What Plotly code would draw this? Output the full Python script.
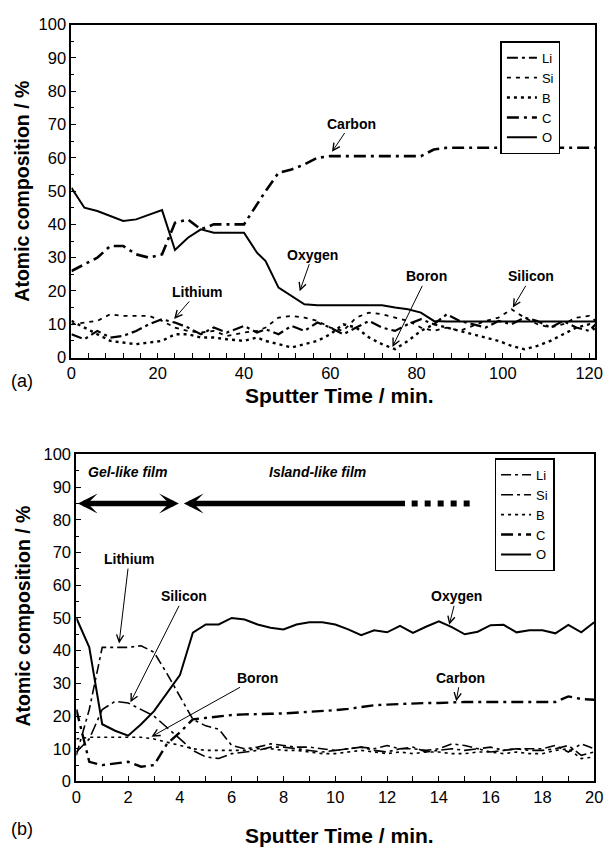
import plotly.graph_objects as go

# ---------------- panel (a): long sputter series ----------------
time_a = [0, 3, 6, 9, 12, 15, 18, 21, 24, 27, 30, 33, 36, 40, 43, 45, 48, 51, 54, 57,
          60, 63, 66, 69, 72, 75, 78, 81, 84, 87, 90, 93, 96, 99, 102, 105, 108, 111,
          114, 117, 120, 121.5]
li_a = [7, 5.5, 8, 6, 6.5, 8, 10, 11.5, 10.5, 9, 7, 9, 7.5, 9.5, 7.5, 8.5, 7, 9.5, 8, 10.5,
        9, 7, 9, 11, 9, 8, 10, 11.5, 10, 13, 11, 10, 9, 11, 10, 12, 11, 9, 11, 9, 8, 10]
si_a = [10, 10.5, 11, 13, 12.5, 12.5, 12.5, 11, 9, 8, 7.5, 8, 6.5, 7.5, 8, 9, 12, 12.5, 12, 11,
        9, 8, 12, 13.5, 13, 12, 11, 9, 8, 9, 8, 9.5, 11, 12, 14.5, 12, 10, 9, 10, 12, 12.5, 11]
b_a = [11, 9, 7, 5, 4.5, 4, 4.5, 5, 7, 7, 6, 6, 5.5, 5, 6, 5, 4, 3, 4, 5,
       7, 10, 9, 6, 4, 2.5, 5, 8, 10, 9, 8, 7, 6, 5, 3.5, 2.5, 3.5, 5, 7, 9, 10, 8]
c_a = [26, 28, 30, 33.5, 33.5, 31, 30, 31, 40.5, 41.5, 38.5, 40, 40, 40, 46, 50, 55.5, 56.5, 58, 60,
       60.5, 60.5, 60.5, 60.5, 60.5, 60.5, 60.5, 60.5, 62.5, 63, 63, 63, 63, 63, 63, 63, 63, 63,
       63, 63, 63, 63]
o_a = [51, 45, 44, 42.5, 41, 41.5, 43, 44.3, 32.3, 36, 38.5, 37.5, 37.5, 37.5, 31.5, 29, 21, 18.4,
       16, 15.7, 15.7, 15.7, 15.7, 15.7, 15.7, 15, 14.5, 13.5, 11, 10.8, 10.8, 10.8, 10.8, 10.8,
       10.8, 10.8, 10.8, 10.8, 10.8, 10.8, 10.8, 10.8]

# ---------------- panel (b): early sputter series ----------------
time_b = [i * 0.5 for i in range(41)]
li_b = [8, 22, 41, 41, 41, 41.5, 39.5, 33, 26, 19, 17, 16, 11, 10, 10.5, 11.5, 11, 10.5, 10.5, 10,
        9.5, 10, 10.5, 10, 11, 10, 10, 9.5, 10, 11.5, 11, 10, 10.5, 9.5, 10, 10, 10, 11, 9, 11.5, 10]
si_b = [9, 13, 22, 24.5, 24, 22, 20, 16.5, 13, 9.5, 7.5, 7, 8.5, 9, 9.5, 10.5, 10.5, 10, 9.5, 9,
        9.5, 10, 10.5, 9.5, 9, 10, 10.5, 9, 9.5, 10, 9.5, 10, 9, 9.5, 10, 9.5, 9.5, 10, 11, 8, 9]
b_b = [13, 13.5, 13.5, 13.5, 13.5, 13.5, 13, 12, 11, 10, 9.5, 9.5, 9.5, 9.5, 10, 10, 9.5, 9.5, 9,
       8.5, 8.5, 9, 9.5, 9, 8.5, 9, 8.5, 9, 9, 8.5, 8.5, 9, 9, 8.5, 9, 8.5, 8.5, 9.5, 10, 7, 7.5]
c_b = [22, 6, 5, 5.5, 6, 4.5, 5, 11.5, 15, 19, 19.5, 20, 20.3, 20.5, 20.5, 20.7, 20.8, 21, 21.3,
       21.5, 21.8, 22.2, 22.8, 23.3, 23.5, 23.7, 23.8, 24, 24, 24.2, 24.3, 24.3, 24.3, 24.3, 24.3,
       24.3, 24.3, 24.3, 26, 25.2, 25]
o_b = [50, 41, 17.5, 15.5, 14, 17.5, 21.5, 27, 32.5, 45.5, 48, 48, 50, 49.5, 48, 47, 46.5, 48,
       48.7, 48.7, 48, 46.5, 44.7, 46.2, 45.6, 47.6, 45.4, 47.3, 49, 47.2, 45, 45.8, 47.8, 47.9,
       45.6, 46.2, 46.2, 45.3, 47.9, 45.6, 48.7]

element_names = ["Li", "Si", "B", "C", "O"]

# line styles per element: (dash pattern, width)
styles_a = {
    "Li": ("11px,4px,3px,4px", 2.2),
    "Si": ("4px,5px", 1.8),
    "B": ("3px,4px", 2.4),
    "C": ("12px,5px,3px,5px", 2.6),
    "O": ("solid", 2.0),
}
styles_b = {
    "Li": ("10px,4px,3px,4px", 1.6),
    "Si": ("12px,4px,3px,4px", 1.6),
    "B": ("3px,4px", 1.6),
    "C": ("12px,5px,3px,5px", 2.4),
    "O": ("solid", 2.0),
}

series_a = dict(zip(element_names, [li_a, si_a, b_a, c_a, o_a]))
series_b = dict(zip(element_names, [li_b, si_b, b_b, c_b, o_b]))

W, H = 613, 858
fig = go.Figure()

for name in element_names:
    dash, width = styles_a[name]
    fig.add_trace(go.Scatter(
        x=time_a, y=series_a[name], mode="lines", name=name,
        line=dict(color="black", width=width, dash=dash),
        xaxis="x", yaxis="y", legend="legend",
    ))
for name in element_names:
    dash, width = styles_b[name]
    fig.add_trace(go.Scatter(
        x=time_b, y=series_b[name], mode="lines", name=name,
        line=dict(color="black", width=width, dash=dash),
        xaxis="x2", yaxis="y2", legend="legend2",
    ))

FONT = "Liberation Sans, Arial, sans-serif"
tickfont = dict(family=FONT, size=16.5, color="black")


def axis_common():
    return dict(
        showline=True, linecolor="black", linewidth=2, mirror=True,
        showgrid=False, zeroline=False, ticks="inside", ticklen=5,
        tickcolor="black", tickwidth=1, tickfont=tickfont,
    )


legend_style = dict(xanchor="left", yanchor="top", bgcolor="white",
                    bordercolor="black", borderwidth=1.5,
                    font=dict(family=FONT, size=13, color="black"),
                    tracegroupgap=0, itemwidth=30)

fig.update_layout(
    width=W, height=H,
    margin=dict(l=0, r=0, t=0, b=0),
    paper_bgcolor="white", plot_bgcolor="white",
    font=dict(family=FONT, color="black"),
    xaxis=dict(domain=[68 / W, 604 / W], range=[0, 121.4], dtick=20, anchor="y",
               minor=dict(dtick=4, ticks="inside", ticklen=5, tickcolor="black"),
               **axis_common()),
    yaxis=dict(domain=[1 - 356 / H, 1 - 16 / H], range=[0, 100], dtick=10, anchor="x",
               minor=dict(dtick=5, ticks="inside", ticklen=3, tickcolor="black"),
               **axis_common()),
    xaxis2=dict(domain=[73 / W, 603 / W], range=[0, 20], dtick=2, anchor="y2",
                minor=dict(dtick=1, ticks="inside", ticklen=5, tickcolor="black"),
                **axis_common()),
    yaxis2=dict(domain=[1 - 789 / H, 1 - 455 / H], range=[0, 100], dtick=10, anchor="x2",
                minor=dict(dtick=5, ticks="inside", ticklen=3, tickcolor="black"),
                **axis_common()),
    legend=dict(x=507 / W, y=1 - 33 / H, **legend_style),
    legend2=dict(x=501 / W, y=1 - 459 / H, **legend_style),
    showlegend=True,
)

annotations = []

# axis titles and panel tags: (title centre, tag centre)
for yc in (186, 620):
    annotations.append(dict(
        text="<b>Atomic composition / %</b>", textangle=-90,
        xref="paper", yref="paper", x=18 / W, y=1 - yc / H,
        xanchor="center", yanchor="middle",
        showarrow=False, font=dict(family=FONT, size=19.5, color="black"),
    ))
for yc, ytag, tag in ((395, 380, "(a)"), (844, 838, "(b)")):
    annotations.append(dict(
        text="<b>Sputter Time / min.</b>", xref="paper", yref="paper",
        x=342 / W, y=1 - yc / H, xanchor="center", yanchor="middle", showarrow=False,
        font=dict(family=FONT, size=21, color="black"),
    ))
    annotations.append(dict(
        text=tag, xref="paper", yref="paper", x=17 / W, y=1 - ytag / H,
        xanchor="center", yanchor="middle",
        showarrow=False, font=dict(family=FONT, size=18, color="black"),
    ))

label_font = dict(family=FONT, size=14, color="black")

# callout labels: (text, tip_x, tip_y, text_x, text_y)
callouts_a = [
    ("Carbon", 60.4, 61.8, 64.8, 70.3),
    ("Oxygen", 52.9, 19.9, 55.9, 30.9),
    ("Lithium", 23.8, 11.6, 29.2, 19.7),
    ("Boron", 74.4, 3.2, 82.4, 24.4),
    ("Silicon", 102.3, 15.0, 106.6, 24.4),
]
callouts_b = [
    ("Lithium", 1.65, 42.2, 2.04, 68.0),
    ("Silicon", 2.09, 24.2, 4.15, 56.6),
    ("Boron", 2.9, 13.7, 6.98, 31.7),
    ("Oxygen", 14.4, 47.9, 14.68, 56.6),
    ("Carbon", 14.67, 24.5, 14.83, 31.7),
]
for (xr, yr), items in ((("x", "y"), callouts_a), (("x2", "y2"), callouts_b)):
    for text, tx, ty, lx, ly in items:
        annotations.append(dict(
            text=f"<b>{text}</b>", x=tx, y=ty, ax=lx, ay=ly,
            xref=xr, yref=yr, axref=xr, ayref=yr,
            showarrow=True, arrowhead=5, arrowsize=1.4, arrowwidth=1,
            arrowcolor="black", font=label_font, standoff=0,
        ))

# film regions in panel (b)
region_font = dict(family=FONT, size=14, color="black")
annotations.append(dict(text="<b><i>Gel-like film</i></b>", x=1.96, y=94.6,
                        xref="x2", yref="y2", showarrow=False, font=region_font))
annotations.append(dict(text="<b><i>Island-like film</i></b>", x=9.3, y=94.6,
                        xref="x2", yref="y2", showarrow=False, font=region_font))
annotations.append(dict(text="", x=3.96, y=85, ax=0.0, ay=85,
                        xref="x2", yref="y2", axref="x2", ayref="y2",
                        showarrow=True, arrowhead=3, arrowside="end+start",
                        arrowsize=0.6, arrowwidth=5.5, arrowcolor="black"))
annotations.append(dict(text="", x=4.15, y=85, ax=12.75, ay=85,
                        xref="x2", yref="y2", axref="x2", ayref="y2",
                        showarrow=True, arrowhead=3, arrowside="end",
                        arrowsize=0.6, arrowwidth=5.5, arrowcolor="black"))

fig.update_layout(annotations=annotations)

# dashed continuation of the island-like film bar
fig.add_shape(type="line", x0=12.95, x1=15.45, y0=85, y1=85, xref="x2", yref="y2",
              line=dict(color="black", width=6, dash="6px,7px"))

fig.write_html("out.html")
